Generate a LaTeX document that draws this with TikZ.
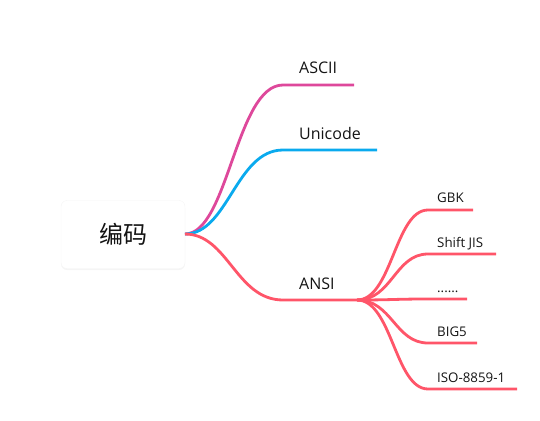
\documentclass[tikz,border=0pt]{standalone}
\usepackage{fontspec}
\setmainfont{Open Sans}
\newfontfamily\cjk{Noto Sans CJK SC}
\usetikzlibrary{shadows}
\definecolor{cpink}{RGB}{222,72,155}
\definecolor{cblue}{RGB}{10,170,238}
\definecolor{cred}{RGB}{255,85,105}
\definecolor{ctext}{RGB}{20,20,20}
\tikzset{
  branch/.style={line width=2.8pt},
  mainlabel/.style={anchor=base west, inner sep=0pt, font=\fontsize{16}{18}\selectfont, text=ctext},
  sublabel/.style={anchor=base west, inner sep=0pt, font=\fontsize{13.3}{15}\selectfont, text=ctext},
  rootbox/.style={draw=black!4, fill=white, rounded corners=6pt, minimum width=124pt, minimum height=68pt,
    drop shadow={opacity=0.08, shadow xshift=0pt, shadow yshift=-1.5pt}, font=\cjk\fontsize{24}{26}\selectfont, text=ctext}
}
\begin{document}
\begin{tikzpicture}[x=1pt,y=-1pt]
\useasboundingbox (0,0) rectangle (540,420);
\node[rootbox] (root) at (123,234.5) {编码};
\coordinate (r) at (185,234);
% main branch endpoints
\coordinate (asciiA) at (283,85);  \coordinate (asciiB) at (354,85);
\coordinate (uniA) at (283,150);   \coordinate (uniB) at (377,150);
\coordinate (ansiA) at (283,300);  \coordinate (ansiB) at (357,300);
\draw[branch, cpink] (r) .. controls (228,234) and (236,85) .. (asciiA) -- (asciiB);
\draw[branch, cblue] (r) .. controls (228,234) and (236,150) .. (uniA) -- (uniB);
\draw[branch, cred] (r) .. controls (228,234) and (236,300) .. (ansiA) -- (ansiB);
\node[mainlabel] (lascii) at (299,74) {ASCII};
\node[mainlabel] (luni) at (299,139) {Unicode};
\node[mainlabel] (lansi) at (299,289) {ANSI};
% sub branches
\coordinate (gA) at (428,210); \coordinate (gB) at (473,210);
\coordinate (sA) at (428,254); \coordinate (sB) at (496,254);
\coordinate (dA) at (428,299); \coordinate (dB) at (467,299);
\coordinate (bA) at (428,343); \coordinate (bB) at (477,343);
\coordinate (iA) at (428,389); \coordinate (iB) at (517,389);
\draw[branch, cred] (ansiB) .. controls (392,300) and (395,210) .. (gA) -- (gB);
\draw[branch, cred] (ansiB) .. controls (392,300) and (395,254) .. (sA) -- (sB);
\draw[branch, cred] (ansiB) .. controls (392,300) and (395,299) .. (dA) -- (dB);
\draw[branch, cred] (ansiB) .. controls (392,300) and (395,343) .. (bA) -- (bB);
\draw[branch, cred] (ansiB) .. controls (392,300) and (395,389) .. (iA) -- (iB);
\node[sublabel] (lg) at (437,202) {GBK};
\node[sublabel] (ls) at (437,247) {Shift JIS};
\node[sublabel] (ld) at (437,292) {......};
\node[sublabel] (lb) at (437,336) {BIG5};
\node[sublabel] (li) at (437,382) {ISO-8859-1};
\end{tikzpicture}
\end{document}
